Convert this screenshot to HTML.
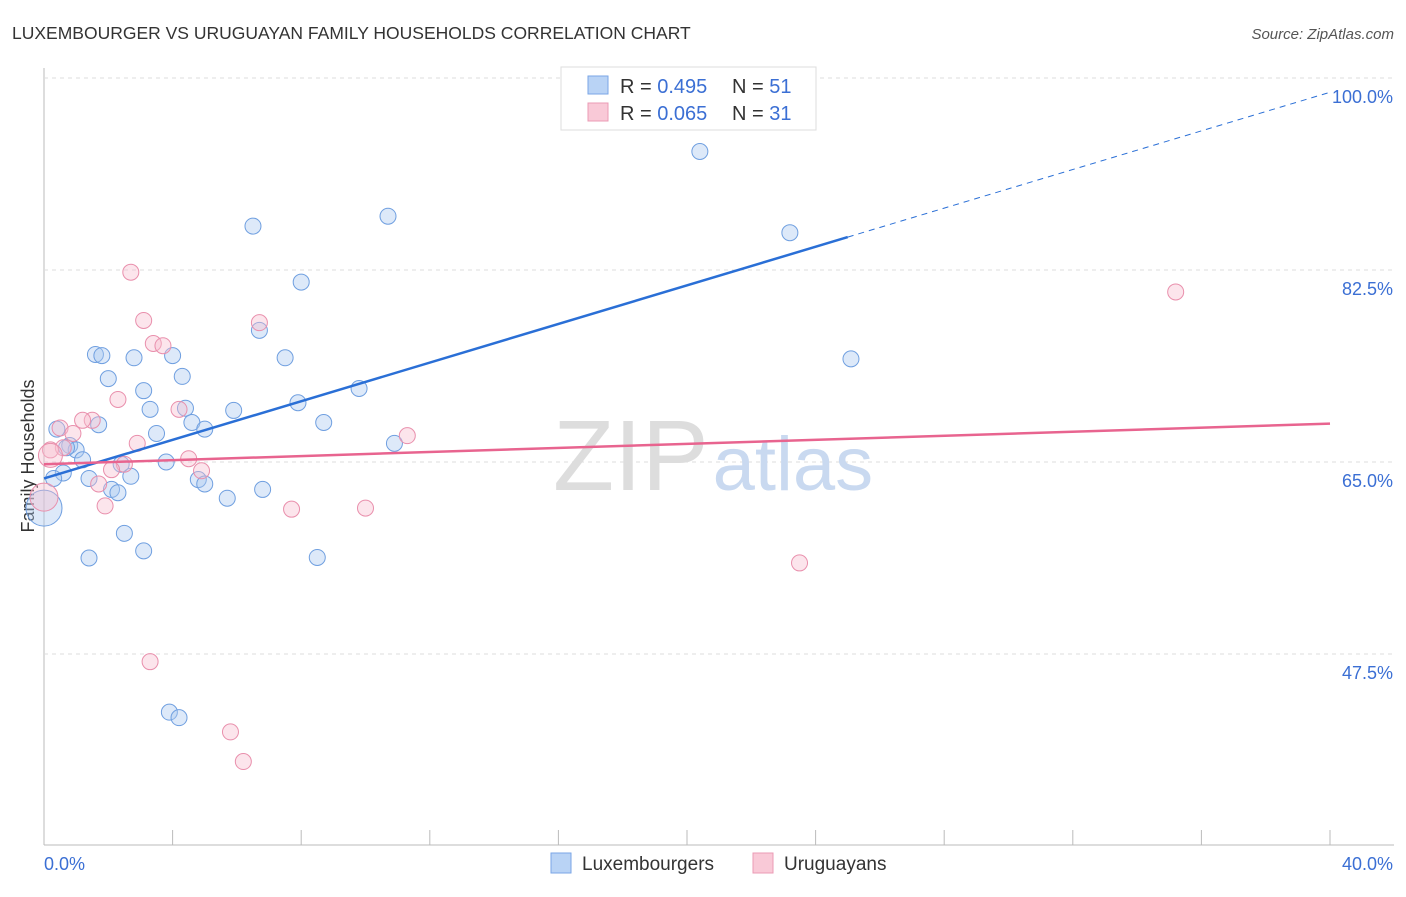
<!DOCTYPE html>
<html><head><meta charset="utf-8">
<style>
body{margin:0;background:#fff;font-family:"Liberation Sans",sans-serif;}
svg text{font-family:"Liberation Sans",sans-serif;}
</style></head>
<body>
<svg id="chart" width="1406" height="892">
<text x="12" y="39" font-size="17.5" fill="#333">LUXEMBOURGER VS URUGUAYAN FAMILY HOUSEHOLDS CORRELATION CHART</text>
<text x="1394" y="39" font-size="15" fill="#555" text-anchor="end" font-style="italic">Source: ZipAtlas.com</text>
<text x="34" y="456" font-size="18" fill="#333" text-anchor="middle" transform="rotate(-90 34 456)">Family Households</text>
<g id="grid"></g>
<text x="553" y="490" font-size="100" fill="#ddd" font-family="Liberation Serif">ZIP<tspan fill="#c9d9f0" font-family="Liberation Sans" font-size="76" dx="4">atlas</tspan></text>
<g id="marks"></g>
<g>
<rect x="561" y="67" width="255" height="63" fill="#fff" stroke="#ddd"/>
<rect x="588" y="76" width="20" height="18" fill="#b9d3f5" stroke="#7aa6e6"/>
<rect x="588" y="103" width="20" height="18" fill="#f9c9d7" stroke="#eb9bb4"/>
<text x="620" y="93" font-size="20" fill="#333">R = <tspan fill="#3b6fd4">0.495</tspan><tspan x="732">N = </tspan><tspan fill="#3b6fd4">51</tspan></text>
<text x="620" y="120" font-size="20" fill="#333">R = <tspan fill="#3b6fd4">0.065</tspan><tspan x="732">N = </tspan><tspan fill="#3b6fd4">31</tspan></text>
</g>
<g>
<rect x="551" y="853" width="20" height="20" fill="#b9d3f5" stroke="#7aa6e6"/>
<text x="582" y="870" font-size="19" fill="#333">Luxembourgers</text>
<rect x="753" y="853" width="20" height="20" fill="#f9c9d7" stroke="#eb9bb4"/>
<text x="784" y="870" font-size="19" fill="#333">Uruguayans</text>
</g>
<text x="44" y="870" font-size="18" fill="#3b6fd4">0.0%</text>
<text x="1393" y="870" font-size="18" fill="#3b6fd4" text-anchor="end">40.0%</text>
</svg>
<script>
const yTicks=[100,82.5,65,47.5];
const yTickLabels=["100.0%","82.5%","65.0%","47.5%"];
const xTicks=[0,4,8,12,16,20,24,28,32,36,40];
const luxX=[20.4,10.7,6.5,23.2,8.0,6.7,1.6,1.8,2.8,4.0,7.5,25.1,2.0,4.3,3.1,9.8,3.3,4.4,5.9,7.9,4.6,8.7,1.7,5.0,0.4,3.5,10.9,0.8,1.0,0.7,1.2,3.8,2.4,0.6,1.4,2.7,4.8,5.0,0.3,2.1,2.3,6.8,5.7,0.0,2.5,3.1,1.4,8.5,3.9,4.2];
const luxY=[93.3,87.4,86.5,85.9,81.4,77.0,74.8,74.7,74.5,74.7,74.5,74.4,72.6,72.8,71.5,71.7,69.8,69.9,69.7,70.4,68.6,68.6,68.4,68.0,68.0,67.6,66.7,66.5,66.1,66.3,65.2,65.0,64.8,64.0,63.5,63.7,63.4,63.0,63.5,62.5,62.2,62.5,61.7,60.8,58.5,56.9,56.25,56.3,42.2,41.7];
const luxR=[8,8,8,8,8,8,8,8,8,8,8,8,8,8,8,8,8,8,8,8,8,8,8,8,8,8,8,8,8,8,8,8,8,8,8,8,8,8,8,8,8,8,8,18,8,8,8,8,8,8];
const uruX=[2.7,3.1,6.7,3.4,3.7,35.2,2.3,4.2,1.5,1.2,0.5,0.9,11.3,2.9,0.6,0.2,4.5,2.5,2.1,4.9,1.7,1.9,7.7,10.0,23.5,3.3,5.8,6.2,0.0,0.2];
const uruY=[82.3,77.9,77.7,75.8,75.6,80.5,70.7,69.8,68.8,68.8,68.1,67.6,67.4,66.7,66.3,66.1,65.3,64.8,64.3,64.2,63.0,61.0,60.7,60.8,55.8,46.8,40.4,37.7,61.8,65.6];
const uruR=[8,8,8,8,8,8,8,8,8,8,8,8,8,8,8,8,8,8,8,8,8,8,8,8,8,8,8,8,14,12];
const luxTrend=[63.5,98.7], luxSolidEnd=25;
const uruTrend=[64.8,68.5];
const X=v=>44+v/40*1286, Y=v=>78+(100-v)/17.5*192;
const NS="http://www.w3.org/2000/svg";
const grid=document.getElementById('grid'), marks=document.getElementById('marks');
function mk(p,tag,a){const e=document.createElementNS(NS,tag);for(const k in a)e.setAttribute(k,a[k]);p.appendChild(e);return e;}
mk(grid,'line',{x1:44,y1:68,x2:44,y2:845,stroke:'#bbb'});
mk(grid,'line',{x1:44,y1:845,x2:1394,y2:845,stroke:'#bbb'});
yTicks.forEach((t,i)=>{
 const l=mk(grid,'line',{x1:44,x2:1394,y1:Y(t),y2:Y(t),stroke:'#ddd','stroke-dasharray':'4,4'});
 
 
 const tx=mk(grid,'text',{x:1393,y:Y(t)+25,'font-size':18,fill:'#3b6fd4','text-anchor':'end'});
 tx.textContent=yTickLabels[i];
 
 
});
xTicks.forEach(t=>{
 const l=mk(grid,'line',{x1:X(t),x2:X(t),y1:830,y2:845,stroke:'#bbb'});
 
 
});
function pts(xs,ys,rs,fill,stroke,name){xs.forEach((x,i)=>{
 const c=mk(marks,'circle',{cx:X(x),cy:Y(ys[i]),r:rs[i],fill:fill,stroke:stroke,'stroke-width':1,'fill-opacity':0.4});
 
 
});}
pts(luxX,luxY,luxR,'#a9c8f0','#6f9fe0','luxembourger-point');
pts(uruX,uruY,uruR,'#f7bfd0','#e98fac','uruguayan-point');
const ly=x=>luxTrend[0]+(luxTrend[1]-luxTrend[0])*x/40;
let l1=mk(marks,'line',{x1:X(0),y1:Y(ly(0)),x2:X(luxSolidEnd),y2:Y(ly(luxSolidEnd)),stroke:'#2a6fd6','stroke-width':2.5});


let l2=mk(marks,'line',{x1:X(luxSolidEnd),y1:Y(ly(luxSolidEnd)),x2:X(40),y2:Y(ly(40)),stroke:'#2a6fd6','stroke-width':1,'stroke-dasharray':'6,5'});


let l3=mk(marks,'line',{x1:X(0),y1:Y(uruTrend[0]),x2:X(40),y2:Y(uruTrend[1]),stroke:'#e8648f','stroke-width':2.5});


</script>
</body></html>
